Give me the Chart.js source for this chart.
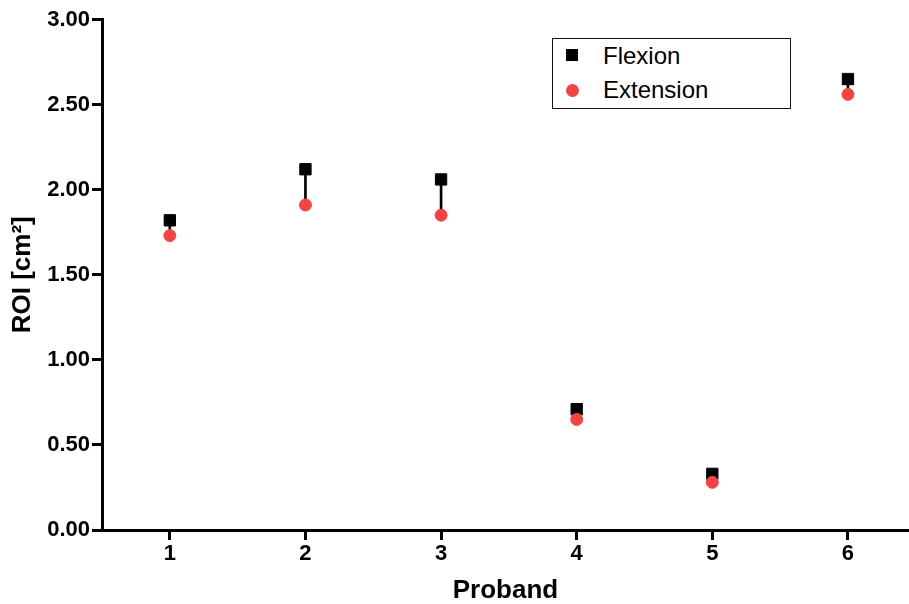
<!DOCTYPE html>
<html>
<head>
<meta charset="utf-8">
<script src="https://cdn.jsdelivr.net/npm/chart.js@4.4.1/dist/chart.umd.min.js"></script>
<style>
  html, body { margin: 0; padding: 0; background: #fff; }
  #wrap { position: relative; width: 909px; height: 604px; }
  #legend { position: absolute; left: 552px; top: 38px; width: 237px; height: 69px;
            border: 1.5px solid #111; background: #fff; }
  .mk { position: absolute; }
  .lbl { position: absolute; font-family: "Liberation Sans", Arial, sans-serif;
         font-size: 24px; line-height: 24px; color: #000; white-space: nowrap; }
</style>
</head>
<body>
<div id="wrap">
  <canvas id="chart" width="909" height="604"></canvas>
  <div id="legend"></div>
  <div class="mk" style="left:566px;top:49px;width:12px;height:12px;background:#000"></div>
  <span class="lbl" style="left:603px;top:44px">Flexion</span>
  <div class="mk" style="left:566px;top:84px;width:13px;height:13px;border-radius:50%;background:#f44343"></div>
  <span class="lbl" style="left:603px;top:78px">Extension</span>
</div>
<script>
// values
const probands = [1, 2, 3, 4, 5, 6]
const flexion = [1.82, 2.12, 2.06, 0.71, 0.33, 2.65]
const extension = [1.73, 1.91, 1.85, 0.65, 0.28, 2.56]
const yTicks = [0, 0.5, 1, 1.5, 2, 2.5, 3]

const font = { family: "'Liberation Sans', Arial, sans-serif", weight: "bold", size: 22 }
const titleFont = { family: "'Liberation Sans', Arial, sans-serif", weight: "bold", size: 26, lineHeight: 1 }

const ctx = document.getElementById("chart").getContext("2d")

new Chart(ctx, {
  type: "scatter",
  data: {
    datasets: [
      {
        // thin line joining the two values of each proband
        label: "link",
        type: "bar",
        data: probands.map((p, i) => ({ x: p, y: [extension[i], flexion[i]] })),
        backgroundColor: "#000",
        barThickness: 2,
        order: 3,
      },
      {
        label: "Flexion",
        data: probands.map((p, i) => ({ x: p, y: flexion[i] })),
        pointStyle: "rect",
        pointRadius: 8,
        backgroundColor: "#000",
        borderColor: "#000",
        borderWidth: 1,
        order: 2,
      },
      {
        label: "Extension",
        data: probands.map((p, i) => ({ x: p, y: extension[i] })),
        pointStyle: "circle",
        pointRadius: 6,
        backgroundColor: "#f44343",
        borderColor: "#f44343",
        borderWidth: 1,
        order: 1,
      },
    ],
  },
  options: {
    responsive: false,
    animation: false,
    devicePixelRatio: 1,
    layout: { autoPadding: false, padding: { top: 19.5, right: 0, left: 0, bottom: 0 } },
    plugins: { legend: { display: false }, tooltip: { enabled: false } },
    scales: {
      x: {
        type: "linear",
        min: 0.5,
        max: 6.45,
        offset: false,
        afterBuildTicks: (scale) => { scale.ticks = probands.map(v => ({ value: v })) },
        afterFit: (scale) => { scale.height = 74 },
        grid: { offset: false, drawOnChartArea: false, tickLength: 10, tickWidth: 3, tickColor: "#000" },
        border: { width: 3, color: "#000" },
        ticks: { color: "#000", font: font, padding: 1, maxRotation: 0 },
        title: { display: true, text: "Proband", color: "#000", font: titleFont, padding: { top: 0, bottom: 0 } },
      },
      y: {
        min: 0,
        max: 3,
        afterBuildTicks: (scale) => { scale.ticks = yTicks.map(v => ({ value: v })) },
        afterFit: (scale) => { scale.width = 102 },
        grid: { drawOnChartArea: false, tickLength: 10, tickWidth: 3, tickColor: "#000" },
        border: { width: 3, color: "#000" },
        ticks: { color: "#000", font: font, padding: 2, callback: (v) => v.toFixed(2) },
        title: { display: true, text: "ROI [cm²]", color: "#000", font: titleFont, padding: { top: 10, bottom: 0 } },
      },
    },
  },
})
</script>
</body>
</html>
